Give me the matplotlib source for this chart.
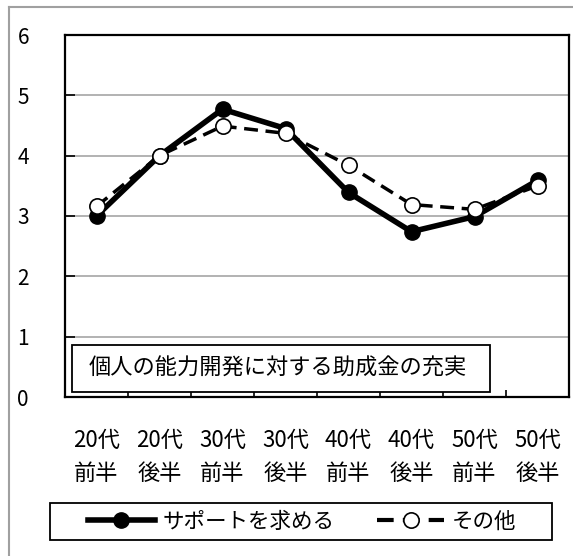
import matplotlib.pyplot as plt
from matplotlib.lines import Line2D
from matplotlib.patches import Rectangle

plt.rcParams['font.family'] = ['Noto Sans CJK JP', 'DejaVu Sans']

categories = ["20代\n前半", "20代\n後半", "30代\n前半", "30代\n後半",
              "40代\n前半", "40代\n後半", "50代\n前半", "50代\n後半"]
support = [3.0, 4.0, 4.77, 4.45, 3.39, 2.74, 2.99, 3.59]
other = [3.16, 4.0, 4.49, 4.37, 3.84, 3.19, 3.11, 3.50]
yticks = [0, 1, 2, 3, 4, 5, 6]
title_text = "個人の能力開発に対する助成金の充実"
W, H = 573, 556

fig = plt.figure(figsize=(W / 100, H / 100), dpi=100)
ax = fig.add_axes([65 / W, 1 - 397 / H, 504 / W, 362 / H])

x = list(range(len(categories)))
ax.plot(x, support, color='black', lw=4, marker='o', ms=11,
        mfc='black', mec='black', zorder=3)
ax.plot(x, other, color='black', lw=2.5, ls=(0, (4, 2.2)), marker='o', ms=11,
        mfc='white', mec='black', mew=1.2, zorder=4)

ax.set_xlim(-0.5, 7.5)
ax.set_ylim(0, 6)
ax.set_yticks(yticks)
ax.set_yticklabels([str(v) for v in yticks], fontsize=15)
ax.set_xticks(x)
ax.set_xticklabels(categories, fontsize=16, linespacing=1.55)
ax.set_xticks([i + 0.5 for i in range(7)], minor=True)
ax.tick_params(axis='x', which='major', length=0, pad=23)
ax.tick_params(axis='x', which='minor', direction='in', length=5, width=1.2)
ax.tick_params(axis='y', direction='in', length=7, width=1.2, pad=26)
ax.grid(axis='y', color='#a6a6a6', lw=1.2)
ax.set_axisbelow(True)
for s in ax.spines.values():
    s.set_linewidth(1.6)
    s.set_color('black')

# annotation box
fig.add_artist(Rectangle((72 / W, 1 - 392 / H), 418 / W, 47 / H,
                         transform=fig.transFigure, fill=True, fc='white',
                         ec='black', lw=1.3, zorder=5))
fig.text(278 / W, 1 - 368 / H, title_text, fontsize=16, ha='center',
         va='center', zorder=6)

# legend (proxy handles so the dashes look like the original)
h1 = Line2D([], [], color='black', lw=4, marker='o', ms=11, mfc='black')
h2 = Line2D([], [], color='black', lw=3, ls=(0, (4, 2.2)), marker='o', ms=11,
            mfc='white', mec='black', mew=1.2)
leg = fig.legend([h1, h2], ['サポートを求める', 'その他'], loc='center',
                 bbox_to_anchor=(302 / W, 1 - 521.5 / H),
                 ncol=2, frameon=False, fontsize=15.5, handlelength=3.1,
                 handletextpad=0.35, columnspacing=2.0)
fig.add_artist(Rectangle((50 / W, 1 - 540 / H), 502 / W, 37 / H,
                         transform=fig.transFigure, fill=False,
                         ec='black', lw=1.3))

# outer chart border (cropped at right/bottom)
fig.add_artist(Line2D([9 / W, 9 / W], [0, 1 - 7 / H], color='#a0a0a0', lw=1.5))
fig.add_artist(Line2D([9 / W, 1], [1 - 7 / H, 1 - 7 / H], color='#a0a0a0', lw=1.5))

fig.savefig('out.png', dpi=100)
